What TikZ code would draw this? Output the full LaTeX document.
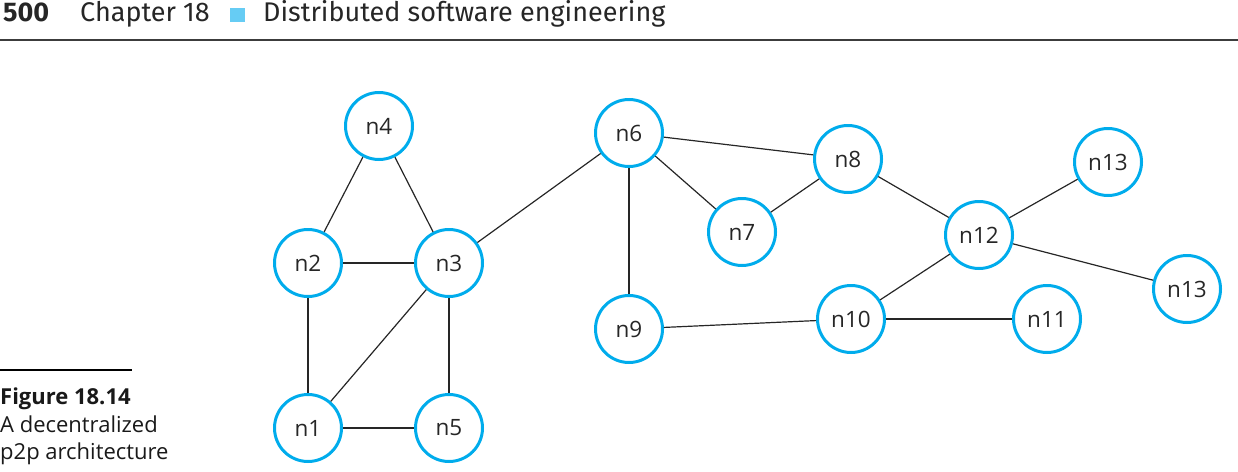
\documentclass[tikz,border=0pt]{standalone}
\usepackage{fontspec}
\setmainfont{Fira Sans}
\newfontfamily\bodyfont{Open Sans}
\definecolor{nodecyan}{RGB}{0,172,236}
\definecolor{sqcyan}{RGB}{102,204,244}
\definecolor{rulegray}{RGB}{60,60,60}
\begin{document}
\begin{tikzpicture}[x=1pt,y=-1pt,
  peer/.style={circle,draw=nodecyan,line width=3pt,minimum size=67pt,inner sep=0pt,
    font=\bodyfont\fontsize{22.5}{26}\selectfont,text=black!85},
  link/.style={line width=1.2pt,draw=black!85},
  head/.style={anchor=base west,inner sep=0pt,font=\fontsize{27}{30}\selectfont,text=black!85},
  captext/.style={anchor=base west,inner sep=0pt,font=\bodyfont\fontsize{22}{26}\selectfont,text=black!90}]
\useasboundingbox (0,0) rectangle (1238,471);
% header
\node[head,font=\fontsize{27}{30}\selectfont\bfseries] (pg) at (3,21) {500};
\node[head] (ch) at (80,21) {Chapter 18};
\fill[sqcyan] (230,8) rectangle (245,22);
\node[head] (tt) at (263,21) {Distributed software engineering};
\draw[rulegray,line width=1.5pt] (0,40) -- (1238,40);
% caption
\draw[black,line width=1.2pt] (0,370) -- (132,370);
\node[captext,font=\bodyfont\fontsize{22}{26}\selectfont\bfseries] (fig) at (0,404) {Figure 18.14};
\node[captext] (c1) at (0,432) {A decentralized};
\node[captext] (c2) at (0,459) {p2p architecture};
% nodes
\node[peer] (n4) at (379,126) {n4};
\node[peer] (n2) at (308,263) {n2};
\node[peer] (n3) at (449,263) {n3};
\node[peer] (n1) at (308,428) {n1};
\node[peer] (n5) at (449,428) {n5};
\node[peer] (n6) at (629,133) {n6};
\node[peer] (n7) at (742,232) {n7};
\node[peer] (n8) at (848,159) {n8};
\node[peer] (n9) at (629,329) {n9};
\node[peer] (n10) at (851,319) {n10};
\node[peer] (n11) at (1047,319) {n11};
\node[peer] (n12) at (979,235) {n12};
\node[peer] (n13a) at (1108,162) {n13};
\node[peer] (n13b) at (1187,289) {n13};
% links
\draw[link] (n4) -- (n2);
\draw[link] (n4) -- (n3);
\draw[link] (n2) -- (n3);
\draw[link] (n2) -- (n1);
\draw[link] (n3) -- (n1);
\draw[link] (n3) -- (n5);
\draw[link] (n1) -- (n5);
\draw[link] (n3) -- (n6);
\draw[link] (n6) -- (n8);
\draw[link] (n6) -- (n7);
\draw[link] (n7) -- (n8);
\draw[link] (n6) -- (n9);
\draw[link] (n9) -- (n10);
\draw[link] (n8) -- (n12);
\draw[link] (n12) -- (n13a);
\draw[link] (n12) -- (n13b);
\draw[link] (n12) -- (n10);
\draw[link] (n10) -- (n11);
\end{tikzpicture}
\end{document}
